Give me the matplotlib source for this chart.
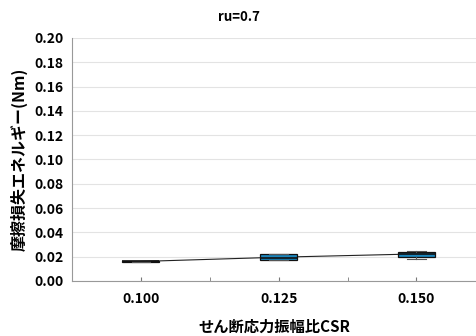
import numpy as np
import matplotlib
matplotlib.use('Agg')
import matplotlib.pyplot as plt

plt.rcParams['font.family'] = ['Noto Sans CJK JP', 'DejaVu Sans']

# データ
csr_labels = ['0.100', '0.125', '0.150']
q1 = [0.0155, 0.0175, 0.0196]
med = [0.0160, 0.0190, 0.0225]
q3 = [0.0165, 0.0218, 0.0240]
whislo = [0.0155, 0.0175, 0.0178]
whishi = [0.0165, 0.0218, 0.0250]
means = [0.0160, 0.0195, 0.0222]
box_colors = ['#1a1a1a', '#1b86bd', '#1b86bd']

fig = plt.figure(figsize=(4.77, 3.36), dpi=100)
ax = fig.add_axes([0.151, 0.164, 0.849, 0.723])

pos = np.arange(len(csr_labels))
stats = []
for i in range(len(csr_labels)):
    stats.append({'q1': q1[i], 'med': med[i], 'q3': q3[i],
                  'whislo': whislo[i], 'whishi': whishi[i], 'fliers': []})

bp = ax.bxp(stats, positions=pos, widths=0.27, patch_artist=True,
            showfliers=False, showcaps=True,
            boxprops=dict(linewidth=0.9, edgecolor='#111111'),
            medianprops=dict(color='#111111', linewidth=1.2),
            whiskerprops=dict(color='#555555', linewidth=0.8),
            capprops=dict(color='#555555', linewidth=0.8))
for patch, c in zip(bp['boxes'], box_colors):
    patch.set_facecolor(c)

ax.plot(pos, means, color='#222222', linewidth=0.8, zorder=1)

ax.set_xlim(-0.5, 2.44)
ax.set_ylim(0, 0.2)
ax.set_yticks(np.arange(0, 0.201, 0.02))
ax.set_yticklabels(['%.2f' % v for v in np.arange(0, 0.201, 0.02)])
ax.set_xticks(pos)
ax.set_xticklabels(csr_labels)
ax.set_xticks([0.5, 1.5], minor=True)

ax.yaxis.grid(True, color='#e3e3e3', linewidth=0.8)
ax.set_axisbelow(True)
for s in ['top', 'right']:
    ax.spines[s].set_visible(False)
ax.spines['left'].set_color('#999999')
ax.spines['bottom'].set_color('#999999')
ax.tick_params(axis='y', length=0, pad=6, labelsize=10)
ax.tick_params(axis='x', which='both', direction='in', length=3, color='#777777', pad=8, labelsize=10)
for lab in ax.get_xticklabels() + ax.get_yticklabels():
    lab.set_fontweight('bold')

ax.set_xlabel('せん断応力振幅比CSR', fontsize=11, fontweight='bold', labelpad=9)
ax.set_ylabel('摩擦損失エネルギー(Nm)', fontsize=11.5, fontweight='bold', labelpad=5)
fig.text(0.5, 0.95, 'ru=0.7', ha='center', va='center', fontsize=9.5, fontweight='bold')

fig.savefig('out.png', dpi=100)
